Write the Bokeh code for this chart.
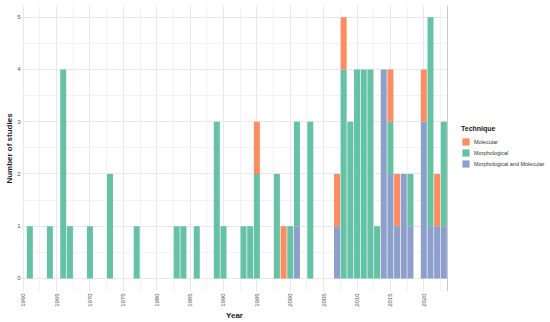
import math
from bokeh.plotting import figure
from bokeh.layouts import row
from bokeh.models import ColumnDataSource, Legend, LegendItem, SingleIntervalTicker
from bokeh.embed import file_html
from bokeh.resources import INLINE

years = [1961, 1964, 1966, 1967, 1970, 1973, 1977, 1983, 1984, 1986,
         1989, 1990, 1993, 1994, 1995, 1998, 1999, 2000, 2001, 2003,
         2007, 2008, 2009, 2010, 2011, 2012, 2013, 2014, 2015, 2016,
         2017, 2018, 2020, 2021, 2022, 2023]
morphological = [1, 1, 4, 1, 1, 2, 1, 1, 1, 1,
                 3, 1, 1, 1, 2, 2, 0, 1, 2, 3,
                 0, 4, 3, 4, 4, 4, 1, 0, 1, 0,
                 0, 1, 0, 4, 0, 2]
molecular = [0, 0, 0, 0, 0, 0, 0, 0, 0, 0,
             0, 0, 0, 0, 1, 0, 1, 0, 0, 0,
             1, 1, 0, 0, 0, 0, 0, 0, 1, 1,
             0, 0, 1, 0, 1, 0]
morph_and_mol = [0, 0, 0, 0, 0, 0, 0, 0, 0, 0,
                 0, 0, 0, 0, 0, 0, 0, 0, 1, 0,
                 1, 0, 0, 0, 0, 0, 0, 4, 2, 1,
                 2, 1, 3, 1, 1, 1]
techniques = ["Molecular", "Morphological", "Morphological and Molecular"]
colors = ["#FC8D62", "#66C2A5", "#8DA0CB"]

src = ColumnDataSource(dict(year=years, mm=morph_and_mol, morph=morphological, mol=molecular))

p = figure(width=447, height=322, x_range=(1959.75, 2023.55), y_range=(-0.249, 5.224),
           output_backend="svg", toolbar_location=None,
           min_border_left=21, min_border_right=0, min_border_top=5, min_border_bottom=0)
rs = p.vbar_stack(["mm", "morph", "mol"], x="year", width=0.9, source=src,
                  fill_color=[colors[2], colors[1], colors[0]], line_color=None)

p.xaxis.ticker = SingleIntervalTicker(interval=5, num_minor_ticks=2)
p.yaxis.ticker = SingleIntervalTicker(interval=1, num_minor_ticks=2)
p.xgrid.grid_line_color = "#e8e8e8"
p.ygrid.grid_line_color = "#e8e8e8"
p.xgrid.minor_grid_line_color = "#f2f2f2"
p.ygrid.minor_grid_line_color = "#f2f2f2"
p.outline_line_color = None
p.axis.axis_line_color = None
p.axis.major_tick_line_color = None
p.axis.minor_tick_line_color = None
p.axis.major_tick_out = 0
p.axis.major_tick_in = 0
p.axis.minor_tick_out = 0
p.axis.minor_tick_in = 0
p.axis.major_label_text_font = "Liberation Sans"
p.axis.major_label_text_font_size = "6px"
p.axis.major_label_text_color = "#555555"
p.axis.axis_label_text_font = "Liberation Sans"
p.axis.axis_label_text_font_size = "8px"
p.axis.axis_label_text_font_style = "bold"
p.axis.axis_label_text_color = "#1a1a1a"
p.axis.axis_label_standoff = 0
p.axis.major_label_standoff = 1
p.xaxis.major_label_standoff = 2
p.xaxis.axis_label_standoff = 1
p.xaxis.major_label_orientation = math.pi / 2
p.xaxis.axis_label = "Year"
p.yaxis.axis_label = "Number of studies"

# legend panel
lf = figure(width=103, height=322, output_backend="svg", toolbar_location=None,
            min_border=0, x_axis_location=None, y_axis_location=None,
            x_range=(0, 1), y_range=(0, 1))
lf.outline_line_color = None
lf.grid.visible = False
lf.grid.grid_line_color = None
swatches = [lf.vbar(x=[-10], top=[1], width=0.9, fill_color=c, line_color=None) for c in colors]
items = [LegendItem(label=t, renderers=[r]) for t, r in zip(techniques, swatches)]
legend = Legend(items=items, location=(14, 123), title="Technique",
                title_text_font="Liberation Sans", title_text_font_size="7px",
                title_text_font_style="bold", title_text_color="#1a1a1a",
                label_text_font="Liberation Sans", label_text_font_size="5.5px",
                label_text_color="#333333",
                glyph_width=9, glyph_height=9, label_height=9, label_standoff=4,
                spacing=2, padding=0, margin=0, title_standoff=5,
                border_line_color=None, background_fill_alpha=0)
lf.add_layout(legend, "center")

layout = row(p, lf, spacing=0)
open("out.html", "w").write(file_html(layout, INLINE))
